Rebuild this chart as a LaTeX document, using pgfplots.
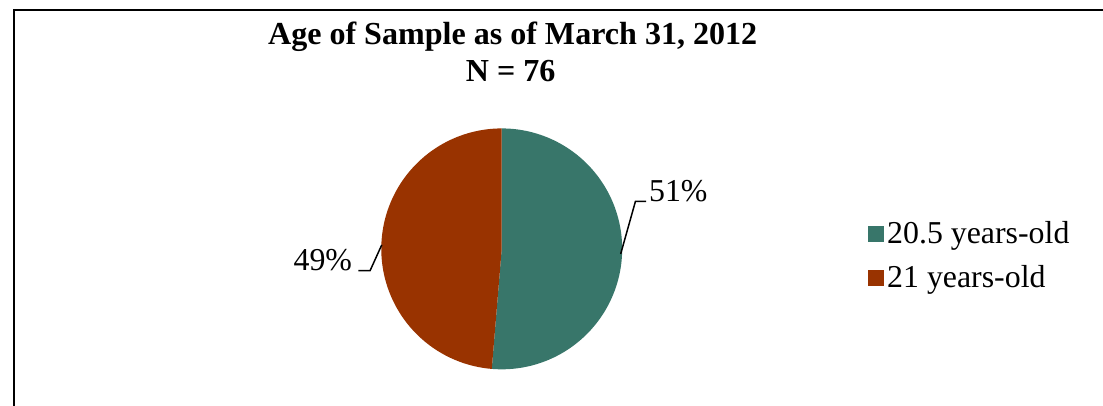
\documentclass[border=0pt]{standalone}
\usepackage{fontspec}
\setmainfont{Liberation Serif}
\usepackage{pgfplots}
\usepackage{pgfplotstable}
\pgfplotsset{compat=1.18}
\definecolor{tealc}{HTML}{38766A}
\definecolor{redc}{HTML}{993300}

\pgfplotstableread{
group count
20.5 39
21 37
}\agedata

\begin{document}
\pgfplotstablegetelem{0}{count}\of\agedata\let\va\pgfplotsretval
\pgfplotstablegetelem{1}{count}\of\agedata\let\vb\pgfplotsretval
\pgfmathsetmacro\angA{360*\va/(\va+\vb)}
\begin{tikzpicture}[x=1pt,y=1pt]
\useasboundingbox (0,0) rectangle (551.5,203.5);
\draw[line width=0.9pt] (4.4,-2) -- (4.4,198.6) -- (560,198.6);
\node[font=\fontsize{16.1}{18.5}\selectfont\bfseries, anchor=base, inner sep=0] at (255,181) {Age of Sample as of March 31, 2012};
\node[font=\fontsize{16.1}{18.5}\selectfont\bfseries, anchor=base, inner sep=0] at (254,162.5) {N = 76};
\begin{axis}[
  at={(249.5pt,78.5pt)}, anchor=origin,
  scale only axis, width=121pt, height=121pt,
  xmin=-1, xmax=1, ymin=-1, ymax=1,
  hide axis, clip=false,
  legend image code/.code={\fill[#1] (0pt,-4pt) rectangle (8pt,4pt);},
  legend style={at={(axis cs:3.04,-0.06)}, anchor=west, draw=none, fill=none,
    font=\fontsize{16}{19}\selectfont, inner sep=0pt, row sep=6.5pt,
    nodes={inner sep=1.5pt}},
  legend cell align=left,
]
\addplot[fill=tealc, draw=none, domain=0:\angA, samples=160] ({cos(90-x)},{sin(90-x)}) -- (axis cs:0,0) -- cycle;
\addlegendentry{20.5 years-old}
\addplot[fill=redc, draw=none, domain=\angA:360, samples=160] ({cos(90-x)},{sin(90-x)}) -- (axis cs:0,0) -- cycle;
\addlegendentry{21 years-old}
\draw[black, line width=0.75pt] (axis cs:0.9875,-0.042) -- (axis cs:1.11,0.394) -- (axis cs:1.198,0.394);
\node[anchor=base west, inner sep=0, font=\fontsize{16}{19}\selectfont] at (axis cs:1.22,0.394) {51\%};
\draw[black, line width=0.75pt] (axis cs:-0.996,0.033) -- (axis cs:-1.093,-0.181) -- (axis cs:-1.19,-0.181);
\node[anchor=base east, inner sep=0, font=\fontsize{16}{19}\selectfont] at (axis cs:-1.24,-0.181) {49\%};
\end{axis}
\end{tikzpicture}
\end{document}
